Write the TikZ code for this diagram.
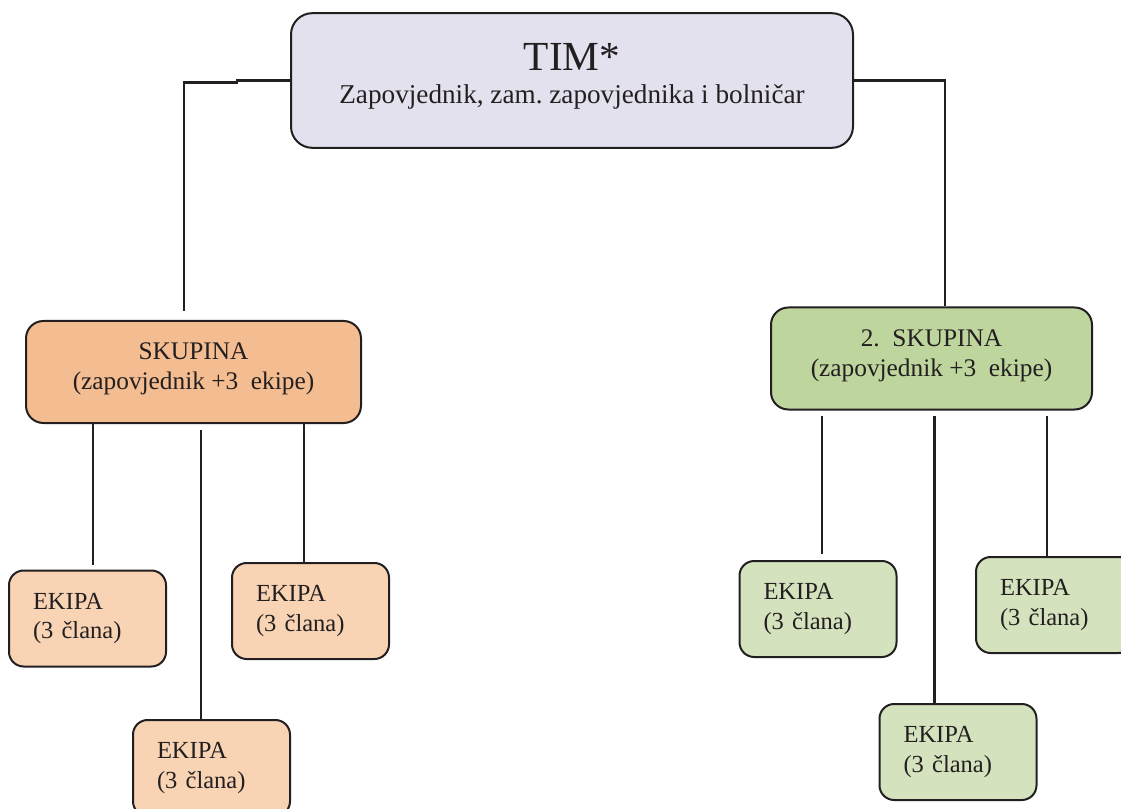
\documentclass[tikz,border=0pt]{standalone}
\usepackage{fontspec}
\setmainfont{Liberation Serif}
\usepackage{xcolor}

\definecolor{linecol}{HTML}{231F20}
\definecolor{timfill}{HTML}{E4E1EE}
\definecolor{orangedark}{HTML}{F4BD91}
\definecolor{orangelight}{HTML}{F8D4B5}
\definecolor{greendark}{HTML}{BED59D}
\definecolor{greenlight}{HTML}{D4E2BD}

\begin{document}
\begin{tikzpicture}[x=0.75pt,y=-0.75pt,
    box/.style={draw=linecol, line width=1.5pt, text=linecol, inner sep=0pt, align=center},
    tim/.style={box, fill=timfill, minimum width=421.5pt, minimum height=101pt,
        rounded corners=16pt, font=\fontsize{20.4}{24.75}\selectfont},
    group/.style={box, minimum height=76.5pt, rounded corners=13pt,
        font=\fontsize{19}{22.5}\selectfont,
        execute at end node={\rule[-8.5pt]{0pt}{1pt}}},
    team/.style={box, minimum height=72pt, text width=81.75pt, inner xsep=18pt,
        align=left, rounded corners=11pt, font=\fontsize{18.4}{22}\selectfont},
    link/.style={draw=linecol, line width=1.8pt}]
    \useasboundingbox (0,0) rectangle (1121,809);
    \clip (0,0) rectangle (1121,809);

    % tim
    \node[tim] (tim) at (572,80.5) {{\fontsize{31}{31}\selectfont TIM*}\\
        Zapovjednik, zam.\ zapovjednika i bolničar\rule[-11.2pt]{0pt}{1pt}};

    % skupine
    \node[group, fill=orangedark, minimum width=251.25pt] (s1) at (193.5,372)
        {SKUPINA\\(zapovjednik +3\enspace ekipe)};
    \node[group, fill=greendark, minimum width=240.75pt] (s2) at (931.5,358.5)
        {2.\enspace SKUPINA\\(zapovjednik +3\enspace ekipe)};

    % ekipe
    \node[team, fill=orangelight] (e1) at (87.5,618.5) {EKIPA\\(3 člana)};
    \node[team, fill=orangelight] (e2) at (310.5,611) {EKIPA\\(3 člana)};
    \node[team, fill=orangelight] (e3) at (211.5,768) {EKIPA\\(3 člana)};
    \node[team, fill=greenlight] (e4) at (818,609) {EKIPA\\(3 člana)};
    \node[team, fill=greenlight] (e5) at (1054.5,605) {EKIPA\\(3 člana)};
    \node[team, fill=greenlight] (e6) at (958,752) {EKIPA\\(3 člana)};

    % veze
    \draw[link] (tim.west) -- ++(-53,0) -- ++(0,2) -| ([xshift=-7.1pt,yshift=6.75pt]s1.north);
    \draw[link] (tim.east) -| ([xshift=10.1pt]s2.north);

    \draw[link] ([xshift=4.1pt]e1.north |- s1.south) -- ([xshift=4.1pt,yshift=3.75pt]e1.north);
    \draw[link] ([xshift=-7.9pt,yshift=-4.5pt]e3.north |- s1.south) -- ([xshift=-7.9pt]e3.north);
    \draw[link] ([xshift=-4.9pt]e2.north |- s1.south) -- ([xshift=-4.9pt]e2.north);

    \draw[link] ([xshift=3pt,yshift=-3.75pt]e4.north |- s2.south) -- ([xshift=3pt,yshift=4.5pt]e4.north);
    \draw[link] ([xshift=-17.6pt,yshift=-3.75pt]e6.north |- s2.south) -- ([xshift=-17.6pt]e6.north);
    \draw[link] ([xshift=-5.6pt,yshift=-3.75pt]e5.north |- s2.south) -- ([xshift=-5.6pt]e5.north);
\end{tikzpicture}
\end{document}
